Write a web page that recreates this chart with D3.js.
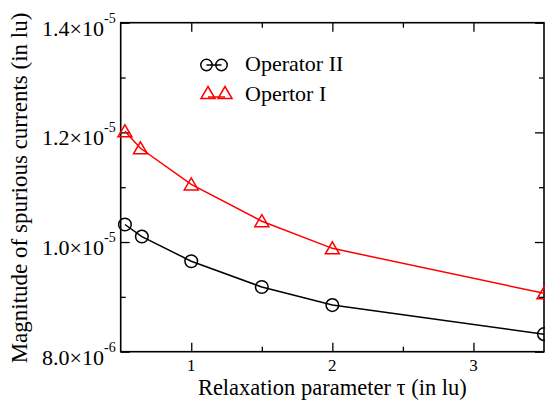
<!DOCTYPE html>
<html lang="en">
<head>
<meta charset="utf-8">
<title>Spurious currents</title>
<style>
  body { margin: 0; background: #fff; }
  svg { display: block; }
  svg text { font-family: "Liberation Serif", "Times New Roman", Times, "DejaVu Serif", serif; }
</style>
<script src="https://d3js.org/d3.v7.min.js"></script>
</head>
<body>
<div class="chart"></div>
<script>
// data
const tauOpII = [0.53, 0.65, 1.0, 1.5, 2.0, 3.5];
const opII = [1.032e-5, 1.010e-5, 9.65e-6, 9.18e-6, 8.85e-6, 8.32e-6];
const tauOpI = [0.53, 0.64, 1.0, 1.5, 2.0, 3.5];
const opI = [1.202e-5, 1.171e-5, 1.105e-5, 1.038e-5, 9.885e-6, 9.065e-6];

const xMajor = [1, 2, 3];
const xMinor = [1.5, 2.5];
const yMajor = [8e-6, 1.0e-5, 1.2e-5, 1.4e-5];
const yMinor = [9e-6, 1.1e-5, 1.3e-5];
const yLabels = [["8.0×10", "-6"], ["1.0×10", "-5"], ["1.2×10", "-5"], ["1.4×10", "-5"]];

const W = 545, H = 401;
const margin = { top: 22.7, right: 1, bottom: 49.3, left: 120.7 };
const serif = "'Liberation Serif', 'Times New Roman', Times, 'DejaVu Serif', serif";

const x = d3.scaleLinear().domain([0.5, 3.5]).range([margin.left, W - margin.right]);
const y = d3.scaleLinear().domain([8e-6, 1.4e-5]).range([H - margin.bottom, margin.top]);

const svg = d3.select(".chart").append("svg")
  .attr("width", W).attr("height", H)
  .attr("font-family", serif);

const tickAxis = (axisFn, scale, vals, size) =>
  axisFn(scale).tickValues(vals).tickSize(-size).tickFormat("");

function addAxis(axisFn, scale, major, minor, transform) {
  [[major, 9], [minor, 5]].forEach(([vals, size]) => {
    svg.append("g").attr("transform", transform)
      .call(tickAxis(axisFn, scale, vals, size))
      .call(g => g.select(".domain").remove())
      .call(g => g.selectAll("line").attr("stroke", "#000").attr("stroke-width", 1.3));
  });
}
addAxis(d3.axisBottom, x, xMajor, xMinor, `translate(0,${H - margin.bottom})`);
addAxis(d3.axisTop, x, xMajor, xMinor, `translate(0,${margin.top})`);
addAxis(d3.axisLeft, y, yMajor, yMinor, `translate(${margin.left},0)`);
addAxis(d3.axisRight, y, yMajor, yMinor, `translate(${W - margin.right},0)`);

// frame
svg.append("rect")
  .attr("x", margin.left).attr("y", margin.top)
  .attr("width", W - margin.right - margin.left)
  .attr("height", H - margin.bottom - margin.top)
  .attr("fill", "none").attr("stroke", "#000").attr("stroke-width", 1.6);

// x tick labels
svg.append("g").selectAll("text")
  .data(xMajor)
  .join("text")
  .attr("x", d => x(d))
  .attr("y", H - margin.bottom + 19)
  .attr("text-anchor", "middle")
  .attr("font-family", serif)
  .style("font-size", "17px")
  .text(d => d);

// y tick labels with exponent
const yl = svg.append("g").selectAll("text")
  .data(yMajor)
  .join("text")
  .attr("x", margin.left - 5)
  .attr("y", d => y(d) + 13)
  .attr("text-anchor", "end")
  .attr("font-family", serif)
  .style("font-size", "22px");
yl.append("tspan").text((d, i) => yLabels[i][0]);
yl.append("tspan").attr("dy", -13).style("font-size", "14px").text((d, i) => yLabels[i][1]);

// axis titles
svg.append("text")
  .attr("x", x(2))
  .attr("y", 395)
  .attr("text-anchor", "middle")
  .attr("font-family", serif)
  .style("font-size", "22.5px")
  .text("Relaxation parameter τ (in lu)");

svg.append("text")
  .attr("transform", `translate(27,188) rotate(-90)`)
  .attr("text-anchor", "middle")
  .attr("font-family", serif)
  .style("font-size", "23px")
  .text("Magnitude of spurious currents (in lu)");

// series
const line = d3.line().x(d => x(d[0])).y(d => y(d[1]));
const ptsII = tauOpII.map((t, i) => [t, opII[i]]);
const ptsI = tauOpI.map((t, i) => [t, opI[i]]);

const plot = svg.append("g");
plot.append("path").datum(ptsII).attr("d", line)
  .attr("fill", "none").attr("stroke", "#000").attr("stroke-width", 1.5);
plot.append("path").datum(ptsI).attr("d", line)
  .attr("fill", "none").attr("stroke", "#ff0000").attr("stroke-width", 1.5);

const tri = (cx, cy) => `M${cx},${cy - 6.5}L${cx + 7},${cy + 5.5}L${cx - 7},${cy + 5.5}Z`;

plot.selectAll("circle.m").data(ptsII).join("circle")
  .attr("cx", d => x(d[0])).attr("cy", d => y(d[1])).attr("r", 6.3)
  .attr("fill", "none").attr("stroke", "#000").attr("stroke-width", 1.5);
plot.selectAll("path.t").data(ptsI).join("path")
  .attr("class", "t")
  .attr("d", d => tri(x(d[0]), y(d[1])))
  .attr("fill", "none").attr("stroke", "#ff0000").attr("stroke-width", 1.5);

// legend
const legend = svg.append("g");
legend.append("line").attr("x1", 206.5).attr("x2", 221.5).attr("y1", 65).attr("y2", 65)
  .attr("stroke", "#000").attr("stroke-width", 1.5);
[206.5, 221.5].forEach(cx => legend.append("circle")
  .attr("cx", cx).attr("cy", 65).attr("r", 5.7)
  .attr("fill", "none").attr("stroke", "#000").attr("stroke-width", 1.5));
legend.append("text").attr("x", 245).attr("y", 71)
  .attr("font-family", serif).style("font-size", "22px").text("Operator II");

legend.append("line").attr("x1", 208).attr("x2", 225).attr("y1", 97).attr("y2", 97)
  .attr("stroke", "#ff0000").attr("stroke-width", 1.5);
[208, 225].forEach(cx => legend.append("path")
  .attr("d", tri(cx, 93))
  .attr("fill", "none").attr("stroke", "#ff0000").attr("stroke-width", 1.5));
legend.append("text").attr("x", 245).attr("y", 101)
  .attr("font-family", serif).style("font-size", "22px").text("Opertor I");
</script>
</body>
</html>
